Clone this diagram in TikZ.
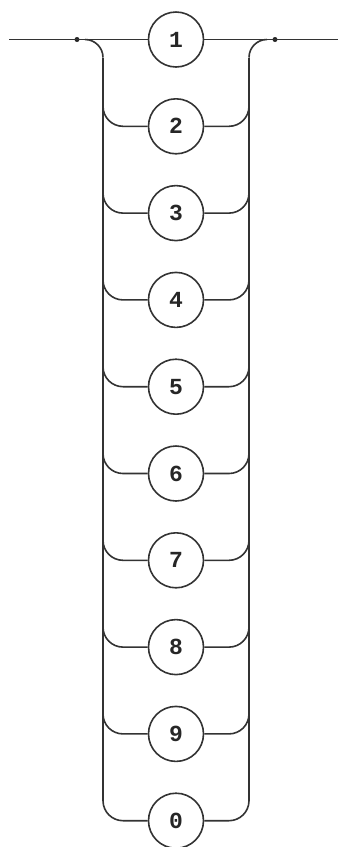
\documentclass[tikz,border=0pt]{standalone}
\usepackage{fontspec}
\setmonofont{Liberation Mono}
\begin{document}
\begin{tikzpicture}[x=1pt,y=1pt,
  rail/.style={line width=1.6pt,draw=black!80},
  term/.style={circle,draw=black!80,line width=1.6pt,minimum size=55pt,inner sep=0pt,
    font=\ttfamily\bfseries\fontsize{23}{23}\selectfont,text=black!85},
  jdot/.style={circle,fill=black!85,inner sep=0pt,minimum size=5pt}]
\useasboundingbox (0,0) rectangle (339,-847);
\def\cx{176}
\def\lx{103}
\def\rx{249}
\def\rr{20}
% nodes
\foreach \d [count=\i] in {1,2,3,4,5,6,7,8,9,0}{
  \pgfmathsetmacro\yy{-(39.5+(\i-1)*86.8)}
  \node[term] (c\i) at (\cx,\yy) {\d};
}
\coordinate (start) at (9,-39.5);
\coordinate (finish) at (338,-39.5);
\node[jdot] (jl) at (77,-39.5) {};
\node[jdot] (jr) at (275,-39.5) {};
% main line
\draw[rail] (start) -- (c1.west);
\draw[rail] (c1.east) -- (finish);
% main line branch curves
\draw[rail] (85,-39.5) arc[start angle=90,end angle=0,radius=18] coordinate (ltop);
\draw[rail] (267,-39.5) arc[start angle=90,end angle=180,radius=18] coordinate (rtop);
% rails
\path (c10) ++(0,\rr) coordinate (ybot);
\draw[rail] (ltop) -- (ltop |- ybot);
\draw[rail] (rtop) -- (rtop |- ybot);
% branches
\foreach \i in {2,...,10}{
  \draw[rail] (c\i.west) -- (\lx+\rr,0 |- c\i) arc[start angle=270,end angle=180,radius=\rr];
  \draw[rail] (c\i.east) -- (\rx-\rr,0 |- c\i) arc[start angle=270,end angle=360,radius=\rr];
}
\end{tikzpicture}
\end{document}
